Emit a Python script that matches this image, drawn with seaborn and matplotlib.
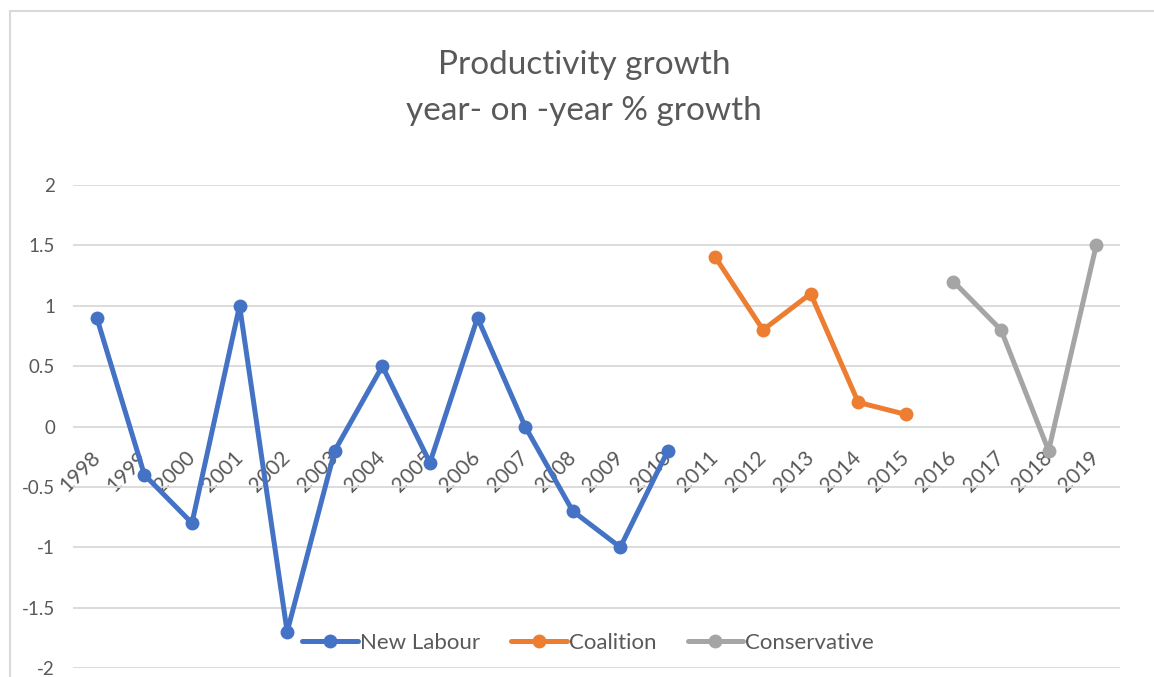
import matplotlib
matplotlib.use("Agg")
import matplotlib.pyplot as plt
import pandas as pd
import seaborn as sns
from matplotlib.lines import Line2D

# Data
years_labour = [1998, 1999, 2000, 2001, 2002, 2003, 2004, 2005, 2006, 2007, 2008, 2009, 2010]
growth_labour = [0.9, -0.4, -0.8, 1.0, -1.7, -0.2, 0.5, -0.3, 0.9, 0.0, -0.7, -1.0, -0.2]
years_coalition = [2011, 2012, 2013, 2014, 2015]
growth_coalition = [1.4, 0.8, 1.1, 0.2, 0.1]
years_conservative = [2016, 2017, 2018, 2019]
growth_conservative = [1.2, 0.8, -0.2, 1.5]
y_ticks = [-2, -1.5, -1, -0.5, 0, 0.5, 1, 1.5, 2]

colour_map = {
    "New Labour": "#4472C4",
    "Coalition": "#ED7D31",
    "Conservative": "#A5A5A5",
}
text_col = "#595959"
grid_col = "#D9D9D9"

df = pd.concat([
    pd.DataFrame({"year": years_labour, "growth": growth_labour, "government": "New Labour"}),
    pd.DataFrame({"year": years_coalition, "growth": growth_coalition, "government": "Coalition"}),
    pd.DataFrame({"year": years_conservative, "growth": growth_conservative, "government": "Conservative"}),
])

sns.set_style("white")
plt.rcParams["font.family"] = ["Lato", "DejaVu Sans"]

fig = plt.figure(figsize=(11.54, 6.77), dpi=100)
ax = fig.add_axes([73 / 1154, 1 - 668 / 677, (1120 - 73) / 1154, (668 - 185) / 677])

sns.lineplot(
    data=df, x="year", y="growth", hue="government", palette=colour_map,
    marker="o", markersize=10, markeredgewidth=0, linewidth=3.6,
    ax=ax, legend=False, zorder=3,
)

all_years = years_labour + years_coalition + years_conservative
ax.set_xlim(all_years[0] - 0.5, all_years[-1] + 0.5)
ax.set_ylim(-2, 2)
ax.grid(axis="y", color=grid_col, linewidth=1.3)
ax.set_axisbelow(True)
for s in ["top", "right", "left"]:
    ax.spines[s].set_visible(False)
# x labels sit on the zero line, as in Excel
ax.spines["bottom"].set_position(("data", 0))
ax.spines["bottom"].set_visible(False)

ax.set_yticks(y_ticks)
ax.set_yticklabels([f"{v:g}" for v in y_ticks])
ax.set_xticks(all_years)
ax.set_xticklabels([str(y) for y in all_years])
ax.tick_params(axis="x", length=0, pad=20, labelsize=15, labelcolor=text_col, labelrotation=45)
for lbl in ax.get_xticklabels():
    lbl.set_ha("right")
    lbl.set_va("center")
    lbl.set_rotation_mode("anchor")
ax.tick_params(axis="y", length=0, pad=13, labelsize=13.5, labelcolor=text_col)
ax.set_xlabel("")
ax.set_ylabel("")

handles = [Line2D([0], [0], color=c, marker="o", markersize=10, markeredgewidth=0, linewidth=3.6)
           for c in colour_map.values()]
ax.legend(handles, list(colour_map.keys()), loc="center", bbox_to_anchor=(0.492, 0.052),
          ncol=3, frameon=False, fontsize=16, labelcolor=text_col, handlelength=2.5,
          handletextpad=0.1, columnspacing=1.4)

fig.text(0.506, 1 - 74 / 677, "Productivity growth", ha="center", va="baseline",
         fontsize=24, color=text_col)
fig.text(0.506, 1 - 120 / 677, "year- on -year % growth", ha="center", va="baseline",
         fontsize=24, color=text_col)

# chart frame edges visible in the crop
fig.add_artist(Line2D([10 / 1154, 1], [1 - 11 / 677, 1 - 11 / 677], color=grid_col, linewidth=1.5))
fig.add_artist(Line2D([10 / 1154, 10 / 1154], [0, 1 - 11 / 677], color=grid_col, linewidth=1.5))

fig.savefig("out.png", dpi=100)
